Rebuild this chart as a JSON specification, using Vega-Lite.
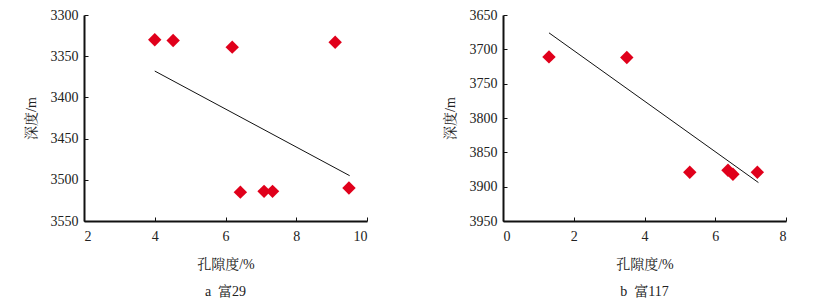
{
  "$schema": "https://vega.github.io/schema/vega-lite/v6.json",
  "padding": {"left": 24, "top": 8, "right": 5, "bottom": 5},
  "background": "white",
  "spacing": 75,
  "config": {
    "font": "Liberation Serif, Noto Serif CJK SC, Noto Sans CJK SC",
    "view": {"stroke": null},
    "axis": {
      "grid": false,
      "format": "d",
      "labelOverlap": false,
      "tickCount": 12,
      "domainColor": "#111111",
      "domainWidth": 2,
      "tickColor": "#111111",
      "tickWidth": 1,
      "tickSize": -4,
      "labelFont": "Liberation Serif",
      "labelFontSize": 14,
      "labelColor": "#222222",
      "titleFont": "Liberation Serif, Noto Serif CJK SC, Noto Sans CJK SC",
      "titleFontSize": 14,
      "titleFontWeight": "normal",
      "titleColor": "#222222"
    },
    "title": {"font": "Liberation Serif, Noto Serif CJK SC, Noto Sans CJK SC", "fontSize": 14, "fontWeight": "normal", "color": "#222222"}
  },
  "datasets": {
    "pts": [
      {"panel": "a", "x": 4.0, "y": 3330},
      {"panel": "a", "x": 4.52, "y": 3331},
      {"panel": "a", "x": 6.19, "y": 3339},
      {"panel": "a", "x": 9.1, "y": 3333},
      {"panel": "a", "x": 6.42, "y": 3515},
      {"panel": "a", "x": 7.09, "y": 3514},
      {"panel": "a", "x": 7.33, "y": 3514},
      {"panel": "a", "x": 9.49, "y": 3510},
      {"panel": "b", "x": 1.3, "y": 3711},
      {"panel": "b", "x": 3.5, "y": 3712},
      {"panel": "b", "x": 5.28, "y": 3879},
      {"panel": "b", "x": 6.36, "y": 3876},
      {"panel": "b", "x": 6.5, "y": 3882},
      {"panel": "b", "x": 7.19, "y": 3879}
    ],
    "fit": [
      {"panel": "a", "x": 4.0, "y": 3368},
      {"panel": "a", "x": 9.51, "y": 3495},
      {"panel": "b", "x": 1.3, "y": 3676},
      {"panel": "b", "x": 7.22, "y": 3894}
    ]
  },
  "hconcat": [
    {
      "width": 283,
      "height": 206,
      "title": {"text": "a\u00a0\u00a0富29", "orient": "bottom", "offset": 14},
      "layer": [
        {
          "data": {"name": "fit"},
          "transform": [{"filter": "datum.panel === 'a'"}],
          "mark": {"type": "line", "color": "#111111", "strokeWidth": 1},
          "encoding": {
            "x": {"field": "x", "type": "quantitative", "scale": {"domain": [2, 10], "nice": false}, "axis": {"values": [2, 4, 6, 8, 10], "title": "孔隙度/%", "labelPadding": 12, "titlePadding": 14}},
            "y": {"field": "y", "type": "quantitative", "scale": {"domain": [3300, 3550], "reverse": true, "nice": false, "zero": false}, "axis": {"values": [3300, 3350, 3400, 3450, 3500, 3550], "title": "深度/m", "labelPadding": 10, "titlePadding": 12}}
          }
        },
        {
          "data": {"name": "pts"},
          "transform": [{"filter": "datum.panel === 'a'"}],
          "mark": {"type": "point", "shape": "diamond", "filled": true, "color": "#E0001B", "opacity": 1, "size": 180},
          "encoding": {
            "x": {"field": "x", "type": "quantitative"},
            "y": {"field": "y", "type": "quantitative"}
          }
        }
      ]
    },
    {
      "width": 283,
      "height": 206,
      "title": {"text": "b\u00a0\u00a0富117", "orient": "bottom", "offset": 14},
      "layer": [
        {
          "data": {"name": "fit"},
          "transform": [{"filter": "datum.panel === 'b'"}],
          "mark": {"type": "line", "color": "#111111", "strokeWidth": 1},
          "encoding": {
            "x": {"field": "x", "type": "quantitative", "scale": {"domain": [0, 8], "nice": false}, "axis": {"values": [0, 2, 4, 6, 8], "title": "孔隙度/%", "labelPadding": 12, "titlePadding": 14}},
            "y": {"field": "y", "type": "quantitative", "scale": {"domain": [3650, 3950], "reverse": true, "nice": false, "zero": false}, "axis": {"values": [3650, 3700, 3750, 3800, 3850, 3900, 3950], "tickCount": 12, "title": "深度/m", "labelPadding": 10, "titlePadding": 12}}
          }
        },
        {
          "data": {"name": "pts"},
          "transform": [{"filter": "datum.panel === 'b'"}],
          "mark": {"type": "point", "shape": "diamond", "filled": true, "color": "#E0001B", "opacity": 1, "size": 180},
          "encoding": {
            "x": {"field": "x", "type": "quantitative"},
            "y": {"field": "y", "type": "quantitative"}
          }
        }
      ]
    }
  ]
}
